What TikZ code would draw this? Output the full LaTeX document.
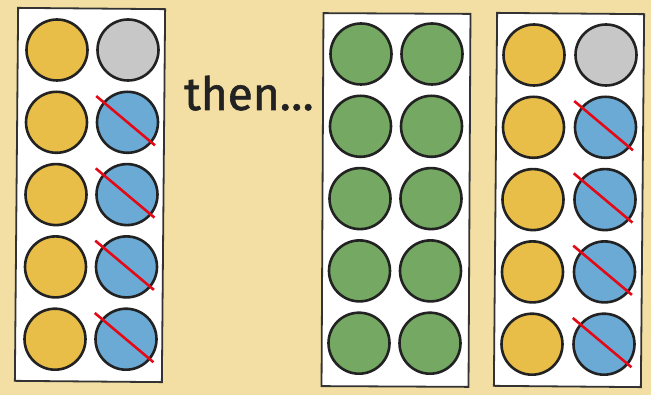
\documentclass[tikz,border=0pt]{standalone}
\usepackage{fontspec}
\newfontfamily\thenfont[FakeBold=1.3]{Fira Sans}
\usetikzlibrary{positioning}
\definecolor{Paper}{HTML}{F3DFA3}
\definecolor{Ink}{HTML}{222222}
\definecolor{TrayLine}{HTML}{333333}
\definecolor{Sun}{HTML}{E8BD48}
\definecolor{Stone}{HTML}{C7C7C7}
\definecolor{Sky}{HTML}{6CAAD6}
\definecolor{Leaf}{HTML}{75A963}
\definecolor{Cross}{HTML}{E30A17}

\begin{document}
\begin{tikzpicture}[
    x=1pt, y=-1pt,
    tray/.style={
        rectangle,
        draw=TrayLine,
        line width=1.8pt,
        fill=white,
        minimum width=147pt,
        minimum height=373pt,
        inner sep=0pt
    },
    counter/.style={
        circle,
        draw=Ink,
        line width=2.6pt,
        minimum size=61pt,
        inner sep=0pt
    },
    slash/.style={draw=Cross, line width=2.6pt, shorten <=-9pt, shorten >=-4pt}
]
    \fill[Paper] (0,0) rectangle (651,395);

    \node[tray, rotate=-0.5] (trayA) at (90,195) {};
    \node[tray, rotate=-0.3] (trayB) at (396,200) {};
    \node[tray, rotate=-0.5] (trayC) at (569,200) {};

    \node[anchor=base west, font=\thenfont\fontsize{46}{50}\selectfont, text=Ink, inner sep=0pt] (then) at (184,110) {then…};

    % first tray and last tray: yellow column, grey or crossed blue column
    \foreach \r in {1,...,5} {
        \pgfmathsetmacro{\ya}{50+72.3*(\r-1)}
        \pgfmathsetmacro{\yc}{55+72.3*(\r-1)}
        \pgfmathsetmacro{\dx}{-0.5*(\r-1)}
        \node[counter, fill=Sun] (aL-\r) at (57+\dx,\ya) {};
        \node[counter, fill=Sun] (cL-\r) at (534+\dx,\yc) {};
        \ifnum\r=1
            \node[counter, fill=Stone] (aR-\r) at (128+\dx,\ya) {};
            \node[counter, fill=Stone] (cR-\r) at (606+\dx,\yc) {};
        \else
            \node[counter, fill=Sky] (aR-\r) at (128+\dx,\ya) {};
            \node[counter, fill=Sky] (cR-\r) at (606+\dx,\yc) {};
            \draw[slash] (aR-\r.140) -- (aR-\r.-40);
            \draw[slash] (cR-\r.140) -- (cR-\r.-40);
        \fi
    }

    % middle tray: all green
    \foreach \r in {1,...,5} {
        \pgfmathsetmacro{\yb}{54+72.3*(\r-1)}
        \pgfmathsetmacro{\dx}{-0.5*(\r-1)}
        \node[counter, fill=Leaf] (bL-\r) at (361+\dx,\yb) {};
        \node[counter, fill=Leaf] (bR-\r) at (432+\dx,\yb) {};
    }
\end{tikzpicture}
\end{document}
